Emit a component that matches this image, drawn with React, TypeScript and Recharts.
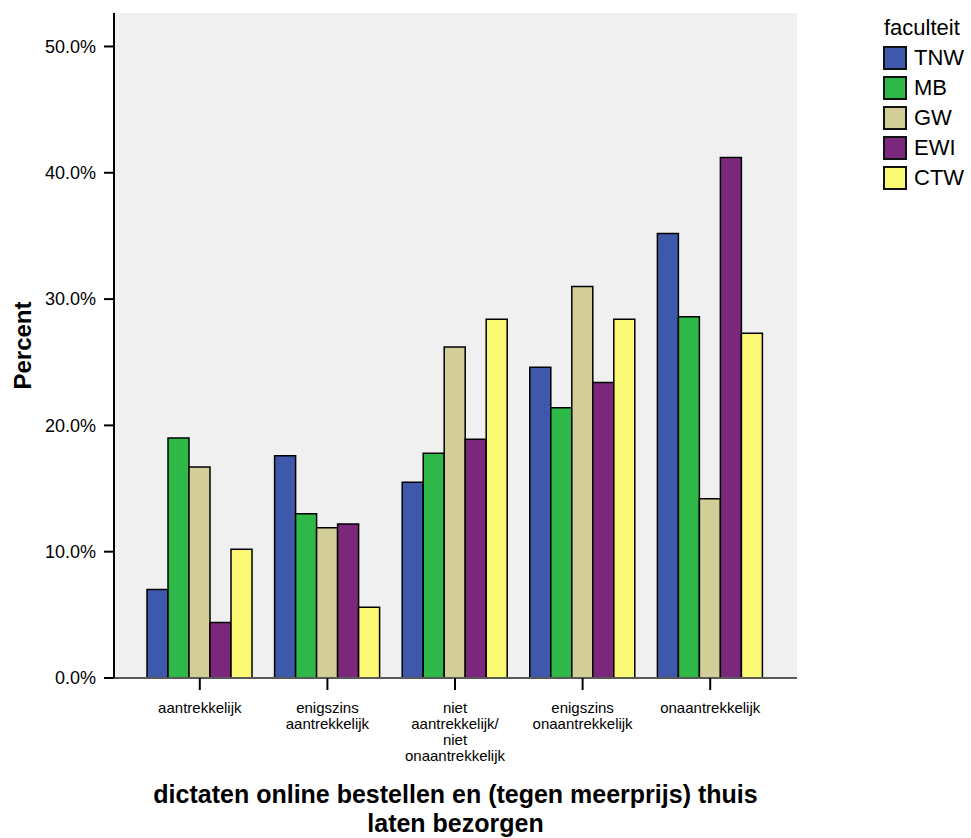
import React from 'react';
import { BarChart, Bar, XAxis, YAxis, CartesianGrid, Legend, ReferenceLine } from 'recharts';

const categories = [
  'aantrekkelijk',
  'enigszins aantrekkelijk',
  'niet aantrekkelijk/ niet onaantrekkelijk',
  'enigszins onaantrekkelijk',
  'onaantrekkelijk',
];
const categoryLines = [
  ['aantrekkelijk'],
  ['enigszins', 'aantrekkelijk'],
  ['niet', 'aantrekkelijk/', 'niet', 'onaantrekkelijk'],
  ['enigszins', 'onaantrekkelijk'],
  ['onaantrekkelijk'],
];
const seriesNames = ['TNW', 'MB', 'GW', 'EWI', 'CTW'];
const seriesColors = ['#3E58AC', '#2EB848', '#D3CE97', '#7B287C', '#FBF873'];
const TNW = [7.0, 17.6, 15.5, 24.6, 35.2];
const MB = [19.0, 13.0, 17.8, 21.4, 28.6];
const GW = [16.7, 11.9, 26.2, 31.0, 14.2];
const EWI = [4.4, 12.2, 18.9, 23.4, 41.2];
const CTW = [10.2, 5.6, 28.4, 28.4, 27.3];
const yTicks = [0, 10, 20, 30, 40, 50];
const legendTitle = 'faculteit';
const yTitle = 'Percent';
const xTitleLines = ['dictaten online bestellen en (tegen meerprijs) thuis', 'laten bezorgen'];

const seriesValues = [TNW, MB, GW, EWI, CTW];
const data = categories.map((cat, i) => {
  const row: Record<string, string | number> = { cat };
  seriesNames.forEach((s, k) => {
    row[s] = seriesValues[k][i];
  });
  return row;
});

const FONT = '"Liberation Sans", Arial, Helvetica, sans-serif';

const XTick = (props: any) => {
  const { x, y, payload } = props;
  const idx = categories.indexOf(payload.value);
  const lines = categoryLines[idx] || [payload.value];
  return (
    <g transform={`translate(${x},${y})`}>
      <text textAnchor="middle" fontSize={15} fill="#000" fontFamily={FONT}>
        {lines.map((l, i) => (
          <tspan key={i} x={0} dy={i === 0 ? 21 : 16}>
            {l}
          </tspan>
        ))}
      </text>
    </g>
  );
};

const XTitle = (props: any) => {
  const { viewBox } = props;
  const cx = viewBox.x + viewBox.width / 2;
  return (
    <g>
      {xTitleLines.map((l, i) => (
        <text
          key={i}
          x={cx}
          y={803 + i * 29}
          textAnchor="middle"
          fontSize={25}
          fontWeight="bold"
          fill="#000"
          fontFamily={FONT}
        >
          {l}
        </text>
      ))}
    </g>
  );
};

const YTitle = (props: any) => {
  const { viewBox } = props;
  const cy = viewBox.y + viewBox.height / 2;
  return (
    <text
      x={31}
      y={cy}
      transform={`rotate(-90, 31, ${cy})`}
      textAnchor="middle"
      fontSize={24}
      fontWeight="bold"
      fill="#000"
      fontFamily={FONT}
    >
      {yTitle}
    </text>
  );
};

const LegendContent = () => (
  <div style={{ fontFamily: FONT, color: '#000' }}>
    <div style={{ fontSize: 22, lineHeight: '30px', height: 30, marginLeft: 1 }}>{legendTitle}</div>
    {seriesNames.map((s, i) => (
      <div key={s} style={{ display: 'flex', alignItems: 'center', height: 30 }}>
        <div
          style={{
            width: 24,
            height: 24,
            background: seriesColors[i],
            border: '2px solid #111',
            boxSizing: 'border-box',
            marginRight: 7,
          }}
        />
        <span style={{ fontSize: 22, lineHeight: '24px' }}>{s}</span>
      </div>
    ))}
  </div>
);

export default function App() {
  return (
    <div style={{ position: 'absolute', left: 0, top: 0, width: 971, height: 838, background: '#fff' }}>
      <BarChart
        width={971}
        height={838}
        data={data}
        margin={{ top: 13, right: 174, bottom: 0, left: 0 }}
        barCategoryGap={11}
        barGap={0}
      >
        <CartesianGrid fill="#F0F0F0" horizontal={false} vertical={false} />
        <XAxis
          dataKey="cat"
          height={160}
          padding={{ left: 22, right: 23 }}
          tickSize={12}
          tickLine={{ stroke: '#000', strokeWidth: 2 }}
          axisLine={{ stroke: '#777', strokeWidth: 1.5 }}
          tick={<XTick />}
          interval={0}
          label={<XTitle />}
        />
        <XAxis
          xAxisId="top"
          dataKey="cat"
          orientation="top"
          height={0}
          tick={false}
          tickLine={false}
          axisLine={{ stroke: '#666', strokeWidth: 1.5 }}
        />
        <YAxis
          width={114}
          domain={[0, 52.65]}
          allowDataOverflow
          ticks={yTicks}
          interval={0}
          tickSize={10}
          tickMargin={8}
          tickFormatter={(v: number) => `${v.toFixed(1)}%`}
          tick={{ fontSize: 18, fill: '#000', fontFamily: FONT }}
          tickLine={{ stroke: '#000', strokeWidth: 2 }}
          axisLine={{ stroke: '#000', strokeWidth: 2 }}
          label={<YTitle />}
        />
        <YAxis
          yAxisId="right"
          orientation="right"
          width={0}
          domain={[0, 52.65]}
          tick={false}
          tickLine={false}
          axisLine={{ stroke: '#666', strokeWidth: 1.5 }}
        />
        <Legend
          layout="vertical"
          align="center"
          verticalAlign="middle"
          content={<LegendContent />}
          wrapperStyle={{ position: 'absolute', left: 883, top: 13, width: 88, height: 180 }}
        />
        {seriesNames.map((s, i) => (
          <Bar
            key={s}
            dataKey={s}
            fill={seriesColors[i]}
            stroke="#000"
            strokeWidth={1.5}
            isAnimationActive={false}
          />
        ))}
        <ReferenceLine
          y={0}
          segment={[{ x: categories[0], y: 0 }, { x: categories[4], y: 0 }]}
          position="start"
          stroke="#000"
          strokeWidth={2}
          ifOverflow="visible"
        />
        <ReferenceLine
          y={0}
          segment={[{ x: categories[0], y: 0 }, { x: categories[4], y: 0 }]}
          position="end"
          stroke="#000"
          strokeWidth={2}
          ifOverflow="visible"
        />
      </BarChart>
    </div>
  );
}
